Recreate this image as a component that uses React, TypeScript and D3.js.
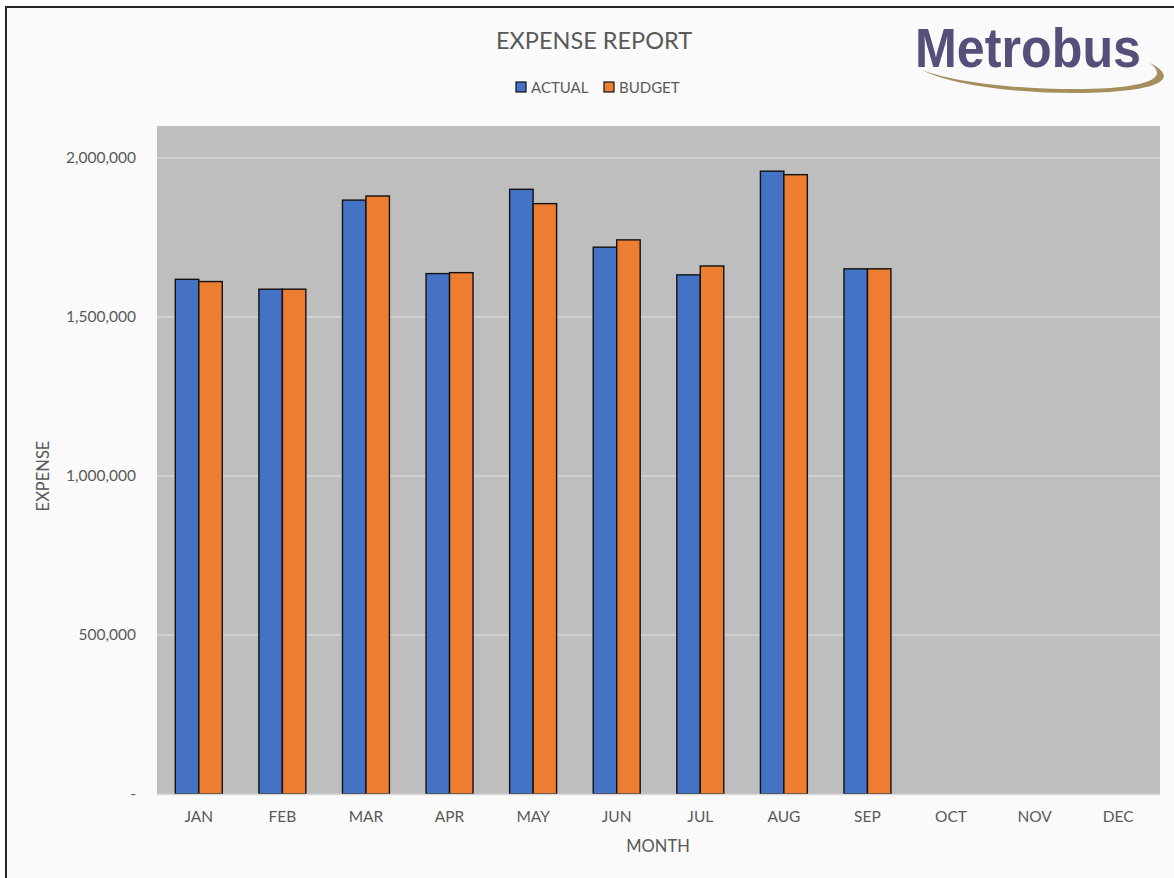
import React, { useEffect, useRef } from "react";
import * as d3 from "d3";

// monthly expense, actual vs budget
const months = ["JAN", "FEB", "MAR", "APR", "MAY", "JUN", "JUL", "AUG", "SEP", "OCT", "NOV", "DEC"];
const actual = [1618000, 1587000, 1867000, 1636000, 1901000, 1719000, 1632000, 1958000, 1651000];
const budget = [1611000, 1587000, 1880000, 1639000, 1856000, 1742000, 1660000, 1947000, 1651000];
const yTicks = [0, 500000, 1000000, 1500000, 2000000];

const W = 1174;
const H = 878;
const font = "Lato, 'Open Sans', sans-serif";
const textColor = "#595959";

export default function App() {
  const ref = useRef<SVGSVGElement | null>(null);

  useEffect(() => {
    const svg = d3.select(ref.current);
    svg.selectAll("*").remove();

    const left = 157, right = 1160, top = 126, bottom = 794;

    // frame
    svg.append("rect").attr("width", W).attr("height", H).attr("fill", "#ffffff");
    svg.append("rect")
      .attr("x", 6).attr("y", 7).attr("width", W + 10).attr("height", H + 10)
      .attr("fill", "#fafafa").attr("stroke", "#262626").attr("stroke-width", 2);

    // plot area
    svg.append("rect")
      .attr("x", left).attr("y", top).attr("width", right - left).attr("height", bottom - top)
      .attr("fill", "#bebebe");

    const x = d3.scaleBand().domain(months).range([left, right]).paddingInner(0).paddingOuter(0);
    const y = d3.scaleLinear().domain([0, 2100000]).range([bottom, top]);
    const inner = d3.scaleBand().domain(["a", "b"]).range([0, x.bandwidth()]).paddingInner(0).paddingOuter(0.78);

    // gridlines
    svg.append("g").selectAll("line")
      .data(yTicks.filter(d => d > 0)).enter()
      .append("line")
      .attr("x1", left).attr("x2", right)
      .attr("y1", d => y(d)).attr("y2", d => y(d))
      .attr("stroke", "#d9d9d9").attr("stroke-width", 1.2);

    // y labels
    svg.append("g").selectAll("text")
      .data(yTicks).enter()
      .append("text")
      .attr("x", 136).attr("y", d => y(d) + 5)
      .attr("text-anchor", "end")
      .attr("font-family", font).attr("font-size", 15.5).attr("fill", textColor)
      .text(d => (d === 0 ? "-" : d3.format(",")(d)));

    // bars
    const series = [
      { key: "a", data: actual, color: "#4472c4" },
      { key: "b", data: budget, color: "#ed7d31" },
    ];
    series.forEach(s => {
      svg.append("g").selectAll("rect")
        .data(s.data).enter()
        .append("rect")
        .attr("x", (d, i) => (x(months[i]) as number) + (inner(s.key) as number))
        .attr("width", inner.bandwidth())
        .attr("y", d => y(d))
        .attr("height", d => bottom - y(d))
        .attr("fill", s.color)
        .attr("stroke", "#111111")
        .attr("stroke-width", 1.4);
    });

    // x axis line
    svg.append("line")
      .attr("x1", left).attr("x2", right).attr("y1", bottom + 0.5).attr("y2", bottom + 0.5)
      .attr("stroke", "#d9d9d9").attr("stroke-width", 1.5);

    // x labels
    svg.append("g").selectAll("text")
      .data(months).enter()
      .append("text")
      .attr("x", d => (x(d) as number) + x.bandwidth() / 2)
      .attr("y", 822)
      .attr("text-anchor", "middle")
      .attr("font-family", font).attr("font-size", 15.5).attr("fill", textColor)
      .text(d => d);

    // axis titles
    svg.append("text")
      .attr("x", 658).attr("y", 852).attr("text-anchor", "middle")
      .attr("font-family", font).attr("font-size", 16.5).attr("fill", textColor)
      .text("MONTH");
    svg.append("text")
      .attr("transform", "translate(49,476) rotate(-90)").attr("text-anchor", "middle")
      .attr("font-family", font).attr("font-size", 16.5).attr("fill", textColor)
      .text("EXPENSE");

    // title
    svg.append("text")
      .attr("x", 594).attr("y", 49).attr("text-anchor", "middle")
      .attr("font-family", font).attr("font-size", 23.5).attr("fill", textColor)
      .text("EXPENSE REPORT");

    // legend
    const legend = [
      { label: "ACTUAL", color: "#4472c4", x: 516 },
      { label: "BUDGET", color: "#ed7d31", x: 604 },
    ];
    legend.forEach(l => {
      svg.append("rect")
        .attr("x", l.x).attr("y", 82).attr("width", 10).attr("height", 10)
        .attr("fill", l.color).attr("stroke", "#111111").attr("stroke-width", 1.2);
      svg.append("text")
        .attr("x", l.x + 15).attr("y", 92.5)
        .attr("font-family", font).attr("font-size", 15).attr("fill", textColor)
        .text(l.label);
    });

    // logo
    svg.append("path")
      .attr("d", "M922,70 C960,90 1060,97 1120,91 C1165,87 1176,76 1150,63 C1168,77 1150,85 1110,88 C1050,92 960,85 922,70 Z")
      .attr("fill", "#a68f5c");
    svg.append("text")
      .attr("x", 1028).attr("y", 67).attr("text-anchor", "middle")
      .attr("font-family", "'Liberation Sans', Arial, sans-serif").attr("font-weight", "bold")
      .attr("font-size", 55).attr("fill", "#574e7a")
      .attr("textLength", 226).attr("lengthAdjust", "spacingAndGlyphs")
      .text("Metrobus");
  }, []);

  return (
    <svg ref={ref} width={W} height={H} style={{ position: "absolute", left: 0, top: 0 }} />
  );
}
